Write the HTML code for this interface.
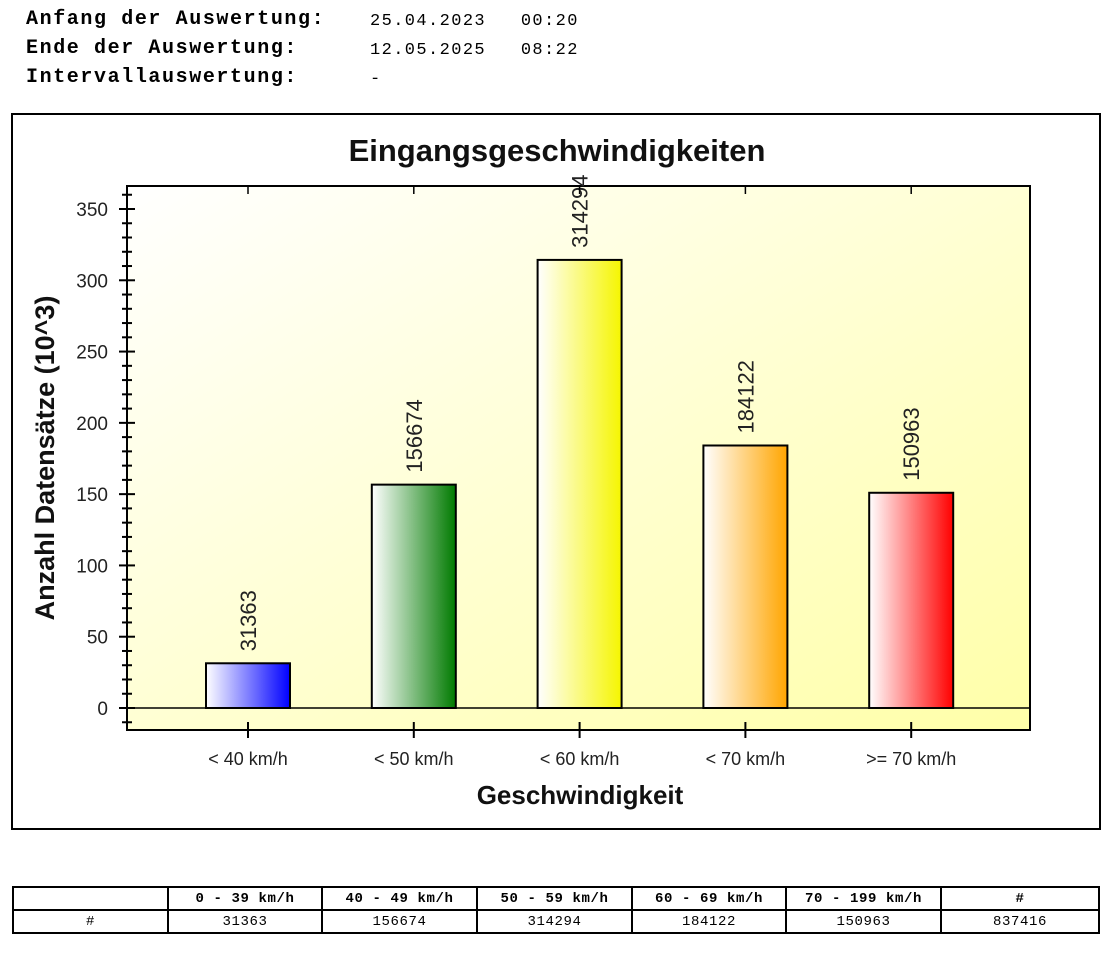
<!DOCTYPE html>
<html><head><meta charset="utf-8"><style>
body{margin:0;width:1114px;height:959px;background:#fff;position:relative;overflow:hidden;font-family:"Liberation Sans",sans-serif}
.hdr{position:absolute;font-family:"Liberation Mono",monospace;font-size:17px;letter-spacing:1.4px;white-space:pre}
.b{font-weight:bold;font-size:20px;letter-spacing:1.6px;margin-top:-2px}
table{position:absolute;left:12px;top:886px;border-collapse:collapse;font-family:"Liberation Mono",monospace;font-size:14px;letter-spacing:0.6px}
td{border:2px solid #000;height:21px;text-align:center;padding:0}
</style></head><body>
<div class="hdr b" style="left:26px;top:10px">Anfang der Auswertung:</div>
<div class="hdr" style="left:370px;top:12px">25.04.2023   00:20</div>
<div class="hdr b" style="left:26px;top:39px">Ende der Auswertung:</div>
<div class="hdr" style="left:370px;top:41px">12.05.2025   08:22</div>
<div class="hdr b" style="left:26px;top:68px">Intervallauswertung:</div>
<div class="hdr" style="left:370px;top:70px">-</div>

<svg id="chart" width="1114" height="959" style="position:absolute;left:0;top:0">
<defs>
<linearGradient id="bg" x1="0" y1="0" x2="1" y2="1"><stop offset="0" stop-color="#ffffff"/><stop offset="1" stop-color="#ffffa8"/></linearGradient>
</defs>
<rect x="12" y="114" width="1088" height="715" fill="#fff" stroke="#000" stroke-width="2"/>
<rect x="127" y="186" width="903" height="544" fill="url(#bg)" stroke="#000" stroke-width="2"/>
<text x="557" y="161" text-anchor="middle" font-size="31" font-weight="bold" fill="#111">Eingangsgeschwindigkeiten</text>
<text x="580" y="804" text-anchor="middle" font-size="26" font-weight="bold" fill="#111">Geschwindigkeit</text>
<text transform="translate(54,458) rotate(-90)" text-anchor="middle" font-size="27" font-weight="bold" fill="#111">Anzahl Datensätze (10^3)</text>
<g id="g"></g>
</svg>

<table>
<tr><td style="width:153px"></td><td style="width:152px"><b>0 - 39 km/h</b></td><td style="width:153px"><b>40 - 49 km/h</b></td><td style="width:153px"><b>50 - 59 km/h</b></td><td style="width:152px"><b>60 - 69 km/h</b></td><td style="width:153px"><b>70 - 199 km/h</b></td><td style="width:156px"><b>#</b></td></tr>
<tr><td>#</td><td>31363</td><td>156674</td><td>314294</td><td>184122</td><td>150963</td><td>837416</td></tr>
</table>

<script>
const categories=["< 40 km/h","< 50 km/h","< 60 km/h","< 70 km/h",">= 70 km/h"];
const values=[31363,156674,314294,184122,150963];
const colors=["#0000ff","#007a00","#f5f500","#ffa500","#ff0000"];
const yTicks=[0,50,100,150,200,250,300,350];
const NS="http://www.w3.org/2000/svg";
const g=document.getElementById('g');
const defs=document.querySelector('#chart defs');
const y=v=>708-v*(499/350);
const x=i=>248+i*165.8;
function el(t,a){const e=document.createElementNS(NS,t);for(const k in a)e.setAttribute(k,a[k]);g.appendChild(e);return e;}
for(let v=-10;v<=360;v+=10){
  const major=v%50===0;
  const t=el('line',{x1:major?119:122,x2:major?135:132,y1:y(v),y2:y(v),stroke:'#000','stroke-width':2});
  
  
}
yTicks.forEach(v=>{
  const t=el('text',{x:108,y:y(v)+7,'text-anchor':'end','font-size':19,fill:'#222'});t.textContent=v;
  
  
});
const zl=el('line',{x1:127,x2:1030,y1:y(0),y2:y(0),stroke:'#000','stroke-width':1.5});


categories.forEach((c,i)=>{
  const gr=document.createElementNS(NS,'linearGradient');
  gr.setAttribute('id','bg'+i);
  gr.innerHTML='<stop offset="0" stop-color="#fff"/><stop offset="1" stop-color="'+colors[i]+'"/>';
  defs.appendChild(gr);
  const v=values[i]/1000;
  const r=el('rect',{x:x(i)-42,y:y(v),width:84,height:y(0)-y(v),fill:'url(#bg'+i+')',stroke:'#000','stroke-width':2});
  
  
  const lt=el('text',{transform:'translate('+(x(i)+8)+','+(y(v)-12)+') rotate(-90)','font-size':22,fill:'#222'});lt.textContent=values[i];
  
  
  const tk=el('line',{x1:x(i),x2:x(i),y1:722,y2:738,stroke:'#000','stroke-width':2});
  
  
  const tk2=el('line',{x1:x(i),x2:x(i),y1:186,y2:194,stroke:'#000','stroke-width':1.5});
  
  
  const ct=el('text',{x:x(i),y:765,'text-anchor':'middle','font-size':18,fill:'#222'});ct.textContent=c;
  
  
});
</script>
</body></html>
